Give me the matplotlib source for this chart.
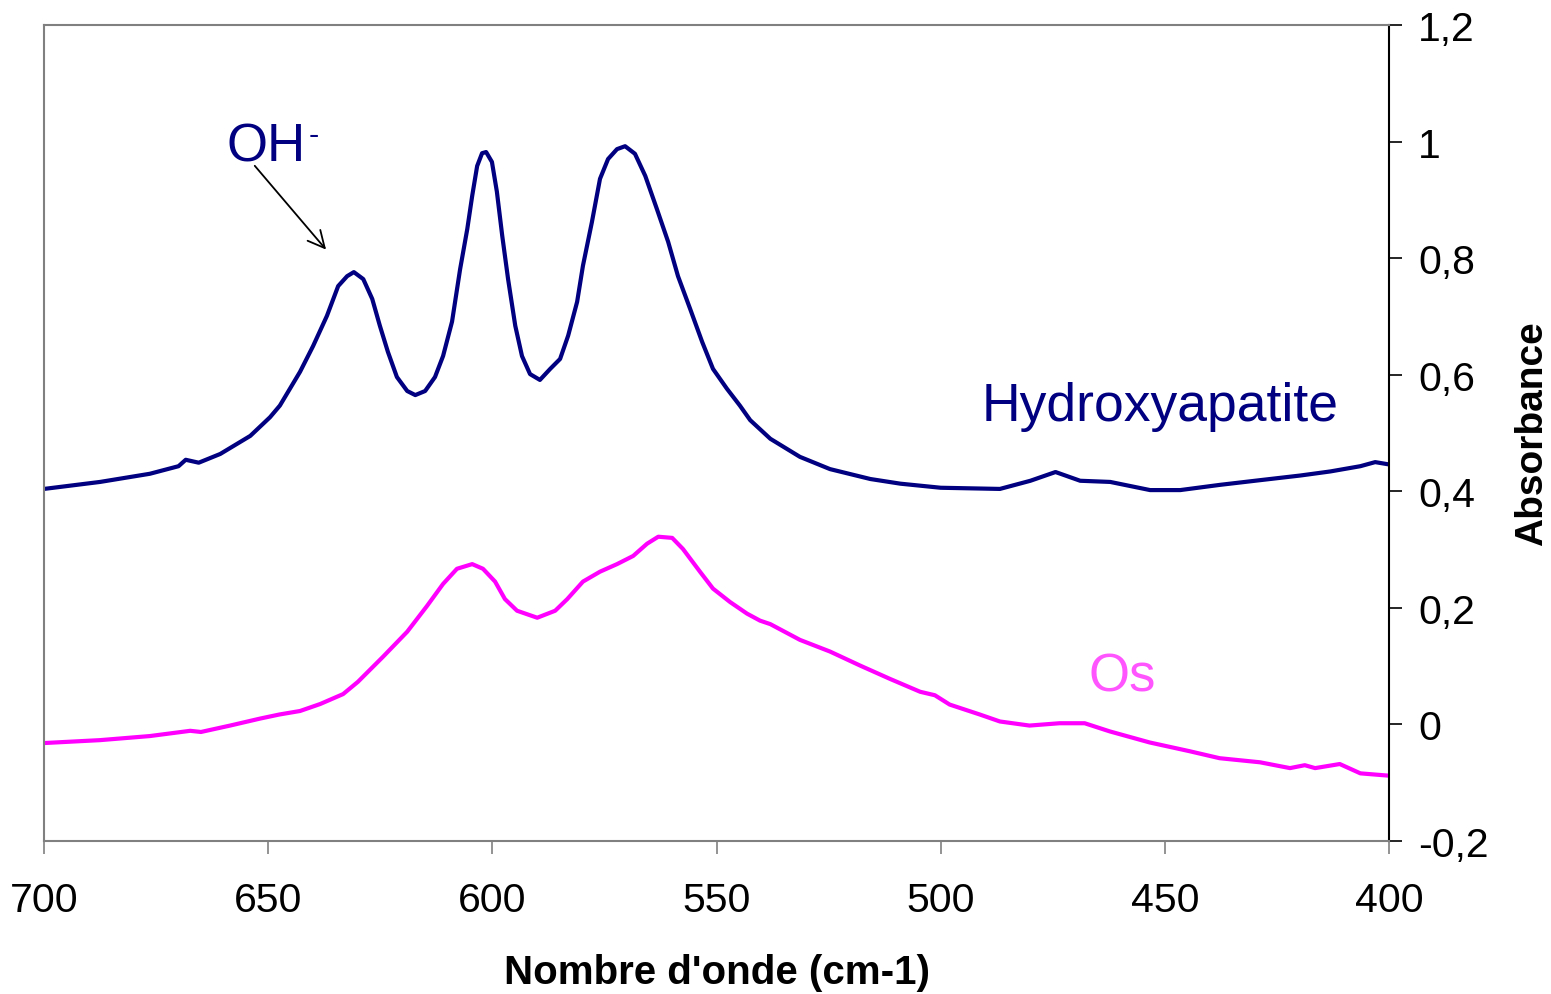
import numpy as np
import matplotlib.pyplot as plt

plt.rcParams['font.family'] = ['Liberation Sans', 'DejaVu Sans']

# wavenumbers (cm-1) and absorbance
wn_hap = [700, 687.5, 676.4, 670, 668.4, 665.5, 660.7, 654, 649.6, 647.4, 642.9, 640.0,
          636.9, 634.4, 632.4, 630.9, 628.8, 626.8, 625.1, 623.3, 621.3, 619.0, 617.2,
          615.0, 612.8, 611.0, 609.0, 607.2, 605.6, 604.5, 603.4, 602.3, 601.4, 600.1,
          599.0, 597.8, 596.5, 594.9, 593.4, 591.6, 589.4, 587.1, 584.9, 583.1, 581.1,
          579.8, 577.8, 576.0, 574.2, 572.2, 570.4, 568.2, 565.9, 563.3, 560.8, 558.6,
          555.9, 553.2, 550.8, 547.7, 544.8, 542.5, 538, 531.4, 524.7, 515.7, 509, 500,
          486.8, 480, 474.4, 468.9, 462.2, 453.3, 446.6, 437.7, 428.8, 419.8, 413.1,
          406.4, 403.1, 400]
abs_hap = [0.404, 0.416, 0.43, 0.443, 0.454, 0.449, 0.464, 0.495, 0.527, 0.547, 0.605,
           0.649, 0.701, 0.752, 0.769, 0.776, 0.764, 0.730, 0.684, 0.639, 0.596, 0.572,
           0.565, 0.572, 0.596, 0.632, 0.691, 0.781, 0.850, 0.907, 0.958, 0.980, 0.982,
           0.965, 0.914, 0.838, 0.764, 0.684, 0.632, 0.601, 0.591, 0.610, 0.627, 0.667,
           0.725, 0.787, 0.862, 0.936, 0.970, 0.987, 0.992, 0.979, 0.941, 0.884, 0.828,
           0.769, 0.713, 0.656, 0.610, 0.576, 0.547, 0.522, 0.49, 0.459, 0.438, 0.421,
           0.413, 0.406, 0.404, 0.418, 0.433, 0.418, 0.416, 0.402, 0.402, 0.411, 0.419,
           0.427, 0.434, 0.443, 0.45, 0.446]

wn_os = [700, 687.5, 676.4, 667.4, 665, 658.5, 651.8, 647.5, 642.9, 638.4, 633.3, 630.0,
         624.4, 619.0, 614.6, 611.0, 607.9, 604.5, 602.1, 599.4, 597.2, 594.5, 590.0,
         586.0, 583.3, 579.8, 576.0, 572.2, 568.6, 565.5, 563.0, 559.9, 557.5, 553.7,
         550.8, 547.0, 543.2, 540.3, 538, 531.4, 524.7, 518, 511.3, 504.6, 501.3, 498,
         491.3, 486.8, 480.2, 473.5, 467.9, 462.3, 453.4, 444.5, 437.8, 428.8, 422.1,
         418.8, 416.5, 411, 406.4, 400]
abs_os = [-0.032, -0.027, -0.02, -0.011, -0.013, -0.002, 0.01, 0.017, 0.023, 0.035,
          0.052, 0.073, 0.116, 0.159, 0.203, 0.241, 0.267, 0.275, 0.267, 0.245, 0.215,
          0.195, 0.183, 0.195, 0.215, 0.245, 0.262, 0.275, 0.289, 0.310, 0.322, 0.320,
          0.301, 0.262, 0.233, 0.210, 0.190, 0.178, 0.172, 0.145, 0.125, 0.101, 0.078,
          0.056, 0.05, 0.034, 0.017, 0.005, -0.002, 0.002, 0.002, -0.012, -0.031,
          -0.046, -0.058, -0.065, -0.075, -0.07, -0.075, -0.068, -0.084, -0.088]

yticks = [-0.2, 0, 0.2, 0.4, 0.6, 0.8, 1, 1.2]
ylabels = ['-0,2', '0', '0,2', '0,4', '0,6', '0,8', '1', '1,2']
xticks = [700, 650, 600, 550, 500, 450, 400]

fig = plt.figure(figsize=(15.51, 9.95), dpi=100)
ax = fig.add_axes([0.0284, 0.1538, 0.8672, 0.8201])

ax.plot(wn_hap, abs_hap, color='#000080', lw=3, solid_joinstyle='round')
ax.plot(wn_os, abs_os, color='#FF00FF', lw=3, solid_joinstyle='round')

ax.set_xlim(700, 400)
ax.set_ylim(-0.2, 1.2)
ax.set_xticks(xticks)
ax.set_yticks(yticks)
ax.set_yticklabels(ylabels)

ax.yaxis.tick_right()
ax.yaxis.set_label_position('right')
ax.tick_params(axis='y', direction='out', length=9, width=1.2, color='black',
               labelsize=29.5, pad=12)
ax.tick_params(axis='x', direction='out', length=9, width=1.2, color='#808080',
               labelsize=29.5, pad=20)

for side in ['left', 'top', 'bottom']:
    ax.spines[side].set_color('#808080')
    ax.spines[side].set_linewidth(1.5)
ax.spines['right'].set_color('black')
ax.spines['right'].set_linewidth(1.5)

ax.set_xlabel("Nombre d'onde (cm-1)", fontsize=29, fontweight='bold', labelpad=24)
ax.set_ylabel('Absorbance', fontsize=28, fontweight='bold', labelpad=18)

ax.text(650.4, 0.992, 'OH', color='#000080', fontsize=38, ha='center', va='center')
ax.text(639.8, 1.012, '-', color='#000080', fontsize=22, ha='center', va='center')
ax.annotate('', xy=(636.7, 0.811), xytext=(653.4, 0.962),
            arrowprops=dict(arrowstyle='->', color='black', lw=1.3,
                            mutation_scale=30))
ax.text(451, 0.546, 'Hydroxyapatite', color='#000080', fontsize=38.5,
        ha='center', va='center')
ax.text(459.5, 0.083, 'Os', color='#FF55FF', fontsize=38, ha='center', va='center')

fig.savefig('out.png', dpi=100)
